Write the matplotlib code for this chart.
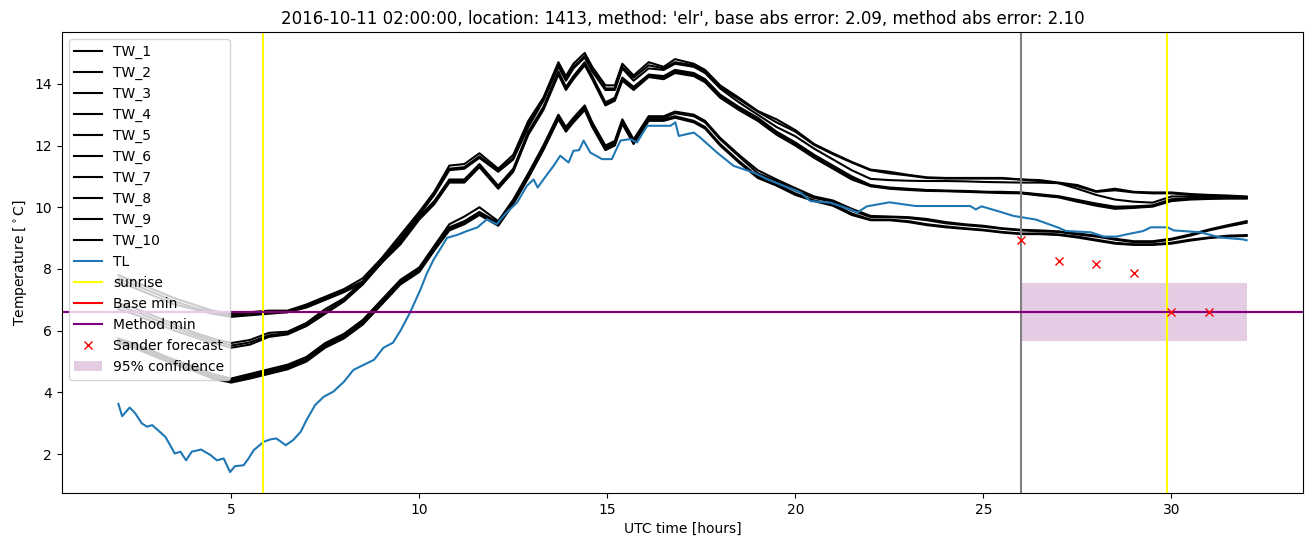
from matplotlib import pyplot as plt

# time grid in hours (UTC, from 2016-10-11 00:00)
hours = [2, 2.5, 3, 3.5, 4, 4.5, 5, 5.5, 6, 6.5, 7, 7.5, 8, 8.5, 9, 9.5, 10,
         10.4, 10.8, 11.2, 11.6, 12.1, 12.5, 12.9, 13.3, 13.7, 13.9, 14.1, 14.4, 14.6, 14.95,
         15.2, 15.4, 15.7, 16.1, 16.5, 16.8, 17.3, 17.6,
         18, 18.5, 19, 19.5, 20, 20.5, 21, 21.5, 22, 22.5, 23, 23.5, 24, 24.5, 25, 25.5,
         26, 26.5, 27, 27.5, 28, 28.5, 29, 29.5, 30, 30.5, 31, 31.5, 32]

TW_1 = [7.8, 7.55, 7.3, 7.05, 6.85, 6.65, 6.55, 6.6, 6.65, 6.65, 6.85, 7.1, 7.35, 7.7, 8.35, 9.1, 9.85,
        10.5, 11.35, 11.4, 11.75, 11.25, 11.7, 12.8, 13.55, 14.7, 14.25, 14.65, 15.0, 14.55, 13.95,
        13.95, 14.65, 14.27, 14.7, 14.55, 14.8, 14.65, 14.45,
        13.95, 13.55, 13.12, 12.85, 12.5, 12.05, 11.75, 11.47, 11.22, 11.15, 11.05, 10.97, 10.95, 10.95,
        10.95, 10.95, 10.9, 10.88, 10.8, 10.72, 10.52, 10.6, 10.5, 10.48, 10.48, 10.43, 10.4, 10.38, 10.35]
TW_2 = [7.7, 7.45, 7.2, 6.95, 6.75, 6.6, 6.5, 6.55, 6.6, 6.6, 6.8, 7.05, 7.3, 7.6, 8.3, 9.0, 9.8,
        10.45, 11.25, 11.3, 11.65, 11.2, 11.6, 12.7, 13.5, 14.6, 14.15, 14.55, 14.9, 14.45, 13.85,
        13.85, 14.55, 14.2, 14.6, 14.5, 14.7, 14.6, 14.4,
        13.9, 13.5, 13.1, 12.75, 12.45, 12.02, 11.72, 11.45, 11.2, 11.1, 11.03, 10.95, 10.93, 10.93,
        10.93, 10.93, 10.9, 10.85, 10.78, 10.68, 10.5, 10.55, 10.48, 10.45, 10.45, 10.4, 10.38, 10.35, 10.32]
TW_3 = [7.6, 7.35, 7.1, 6.85, 6.7, 6.55, 6.45, 6.5, 6.55, 6.6, 6.75, 7.0, 7.25, 7.55, 8.2, 8.95, 9.75,
        10.4, 11.2, 11.25, 11.6, 11.15, 11.55, 12.6, 13.45, 14.55, 14.1, 14.5, 14.85, 14.4, 13.8,
        13.8, 14.5, 14.1, 14.5, 14.45, 14.65, 14.55, 14.35,
        13.85, 13.4, 13.0, 12.6, 12.3, 11.9, 11.55, 11.2, 10.92, 10.88, 10.86, 10.85, 10.85, 10.84,
        10.82, 10.81, 10.8, 10.8, 10.78, 10.6, 10.4, 10.25, 10.18, 10.15, 10.35, 10.35, 10.33, 10.32, 10.3]
TW_4 = [6.9, 6.7, 6.45, 6.2, 5.95, 5.75, 5.6, 5.7, 5.93, 5.97, 6.25, 6.7, 7.05, 7.6, 8.3, 8.9, 9.7,
        10.2, 10.9, 10.9, 11.4, 10.7, 11.25, 12.45, 13.25, 14.4, 13.9, 14.25, 14.7, 14.25, 13.4,
        13.55, 14.2, 13.9, 14.3, 14.25, 14.45, 14.35, 14.15,
        13.65, 13.25, 12.9, 12.45, 12.1, 11.7, 11.35, 11.0, 10.72, 10.64, 10.6, 10.56, 10.54, 10.53,
        10.5, 10.5, 10.48, 10.42, 10.36, 10.24, 10.12, 10.02, 10.03, 10.06, 10.26, 10.3, 10.32, 10.33, 10.33]
TW_5 = [6.8, 6.6, 6.35, 6.1, 5.88, 5.68, 5.52, 5.62, 5.85, 5.92, 6.2, 6.62, 7.0, 7.55, 8.25, 8.85, 9.65,
        10.15, 10.85, 10.85, 11.35, 10.65, 11.2, 12.4, 13.2, 14.35, 13.85, 14.2, 14.65, 14.2, 13.35,
        13.5, 14.15, 13.85, 14.27, 14.2, 14.4, 14.3, 14.1,
        13.6, 13.2, 12.85, 12.4, 12.05, 11.65, 11.3, 10.95, 10.7, 10.62, 10.58, 10.55, 10.53, 10.52,
        10.5, 10.48, 10.47, 10.4, 10.34, 10.2, 10.08, 9.98, 10.0, 10.05, 10.22, 10.28, 10.3, 10.3, 10.3]
TW_6 = [6.7, 6.5, 6.25, 6.0, 5.8, 5.6, 5.45, 5.55, 5.8, 5.88, 6.15, 6.55, 6.95, 7.5, 8.2, 8.8, 9.6,
        10.1, 10.8, 10.8, 11.3, 10.6, 11.15, 12.35, 13.15, 14.3, 13.8, 14.15, 14.6, 14.15, 13.3,
        13.45, 14.1, 13.8, 14.22, 14.15, 14.35, 14.25, 14.05,
        13.55, 13.15, 12.8, 12.35, 12.0, 11.6, 11.25, 10.9, 10.68, 10.6, 10.56, 10.53, 10.52, 10.5,
        10.48, 10.46, 10.45, 10.38, 10.32, 10.18, 10.05, 9.95, 9.98, 10.02, 10.2, 10.25, 10.27, 10.28, 10.28]
TW_7 = [5.75, 5.55, 5.3, 5.05, 4.85, 4.6, 4.45, 4.6, 4.75, 4.9, 5.15, 5.6, 5.9, 6.35, 7.0, 7.65, 8.05,
        8.75, 9.45, 9.7, 10.0, 9.55, 10.25, 11.1, 12.0, 13.0, 12.6, 12.9, 13.3, 12.75, 12.0,
        12.15, 12.85, 12.2, 12.95, 12.95, 13.1, 13.0, 12.8,
        12.25, 11.7, 11.2, 10.9, 10.62, 10.35, 10.22, 9.95, 9.72, 9.7, 9.68, 9.62, 9.52, 9.45,
        9.4, 9.32, 9.27, 9.25, 9.22, 9.15, 9.08, 8.98, 8.9, 8.9, 8.98, 9.12, 9.28, 9.42, 9.55]
TW_8 = [5.7, 5.5, 5.25, 5.0, 4.8, 4.55, 4.4, 4.55, 4.7, 4.85, 5.1, 5.55, 5.85, 6.3, 6.95, 7.6, 8.0,
        8.7, 9.35, 9.55, 9.85, 9.5, 10.2, 11.05, 11.95, 12.95, 12.55, 12.85, 13.25, 12.7, 11.95,
        12.1, 12.8, 12.15, 12.9, 12.9, 13.05, 12.95, 12.75,
        12.2, 11.65, 11.1, 10.85, 10.55, 10.3, 10.18, 9.9, 9.68, 9.68, 9.65, 9.58, 9.48, 9.42,
        9.37, 9.3, 9.25, 9.22, 9.2, 9.12, 9.05, 8.95, 8.87, 8.87, 8.95, 9.08, 9.25, 9.38, 9.5]
TW_9 = [5.65, 5.45, 5.2, 4.95, 4.75, 4.5, 4.35, 4.5, 4.65, 4.8, 5.05, 5.5, 5.8, 6.25, 6.9, 7.55, 7.95,
        8.65, 9.3, 9.5, 9.8, 9.45, 10.15, 11.0, 11.9, 12.9, 12.5, 12.8, 13.2, 12.65, 11.9,
        12.05, 12.75, 12.1, 12.85, 12.85, 12.95, 12.8, 12.6,
        12.05, 11.5, 11.0, 10.75, 10.45, 10.22, 10.1, 9.8, 9.6, 9.6, 9.55, 9.45, 9.38, 9.32,
        9.27, 9.2, 9.15, 9.15, 9.12, 9.05, 8.95, 8.85, 8.8, 8.8, 8.85, 8.95, 9.02, 9.08, 9.1]
TW_10 = [5.6, 5.4, 5.15, 4.9, 4.7, 4.45, 4.32, 4.45, 4.6, 4.75, 5.0, 5.45, 5.75, 6.2, 6.85, 7.5, 7.9,
         8.6, 9.25, 9.45, 9.75, 9.4, 10.1, 10.95, 11.85, 12.85, 12.45, 12.75, 13.15, 12.6, 11.85,
         12.0, 12.7, 12.05, 12.8, 12.8, 12.9, 12.75, 12.55,
         12.0, 11.45, 10.95, 10.7, 10.4, 10.2, 10.05, 9.75, 9.58, 9.58, 9.52, 9.42, 9.35, 9.3,
         9.25, 9.18, 9.13, 9.13, 9.1, 9.02, 8.92, 8.82, 8.78, 8.78, 8.82, 8.92, 9.0, 9.05, 9.07]

# TL has its own (finer) time points
tl_hours = [2.0, 2.1, 2.3, 2.45, 2.62, 2.76, 2.9, 3.05, 3.25, 3.4, 3.5, 3.65, 3.8, 3.95, 4.2,
            4.45, 4.62, 4.8, 4.97, 5.1, 5.33, 5.46, 5.6, 5.86, 6.05, 6.2, 6.45, 6.65, 6.85, 7.0,
            7.23, 7.46, 7.72, 8.0, 8.25, 8.45, 8.8, 9.05, 9.3, 9.5, 9.76, 10.03, 10.2, 10.38,
            10.55, 10.74, 11.0, 11.27, 11.55, 11.8, 12.06, 12.3, 12.6, 12.86, 13.04, 13.15,
            13.35, 13.57, 13.75, 13.97, 14.1, 14.25, 14.37, 14.55, 14.86, 15.12, 15.35, 15.61,
            15.79, 16.06, 16.68, 16.81, 16.9, 17.3, 17.47, 17.92, 18.36, 18.9, 19.25, 19.7,
            20.14, 20.4, 20.93, 21.46, 21.65, 21.9, 22.5, 23.2, 24.65, 24.8, 24.95, 25.4, 25.8,
            26.4, 26.97, 27.2, 27.85, 28.2, 28.55, 28.8, 29.25, 29.45, 29.9, 30.06, 30.77, 31.3,
            31.9, 32.0]
TL = [3.63, 3.23, 3.51, 3.32, 3.0, 2.89, 2.94, 2.78, 2.56, 2.24, 2.02, 2.08, 1.8, 2.08, 2.15,
      1.97, 1.8, 1.86, 1.42, 1.61, 1.64, 1.86, 2.13, 2.4, 2.48, 2.51, 2.29, 2.46, 2.73, 3.1,
      3.59, 3.86, 4.03, 4.35, 4.73, 4.85, 5.06, 5.45, 5.61, 6.0, 6.6, 7.33, 7.85, 8.3,
      8.63, 9.01, 9.1, 9.23, 9.35, 9.61, 9.45, 9.8, 10.15, 10.69, 10.9, 10.64,
      10.98, 11.34, 11.67, 11.45, 11.83, 11.85, 12.16, 11.77, 11.56, 11.56, 12.16, 12.21,
      12.1, 12.64, 12.64, 12.75, 12.31, 12.42, 12.26, 11.77, 11.34, 11.12, 10.91, 10.69,
      10.48, 10.2, 10.15, 9.93, 9.83, 10.03, 10.16, 10.04, 10.04, 9.93, 10.03, 9.87, 9.72,
      9.6, 9.35, 9.23, 9.19, 9.05, 9.05, 9.12, 9.23, 9.35, 9.35, 9.25, 9.19, 9.02,
      8.96, 8.93]

tw_all = [TW_1, TW_2, TW_3, TW_4, TW_5, TW_6, TW_7, TW_8, TW_9, TW_10]

sunrise = [5.85, 29.87]
forecast_start = 26.0
base_min = 6.62
method_min = 6.62

sander_hours = [26, 27, 28, 29, 30, 31]
sander_temp = [8.93, 8.25, 8.15, 7.88, 6.61, 6.61]

conf_hours = [26, 32]
conf_low = [5.68, 5.68]
conf_high = [7.55, 7.55]

title = "2016-10-11 02:00:00, location: 1413, method: 'elr', base abs error: 2.09, method abs error: 2.10"

f, ax = plt.subplots(1, figsize=(13.1, 5.47), dpi=100)
plt.subplots_adjust(left=0.0473, right=0.9947, top=0.9415, bottom=0.0987)

for i, tw in enumerate(tw_all):
    ax.plot(hours, tw, color='black', label='TW_%d' % (i + 1))
ax.plot(tl_hours, TL, color='tab:blue', label='TL')

ax.axvline(sunrise[0], color='yellow', label='sunrise')
ax.axvline(sunrise[1], color='yellow')
ax.axvline(forecast_start, color='gray')
ax.axhline(base_min, color='red', label='Base min')
ax.axhline(method_min, color='purple', label='Method min')
ax.plot(sander_hours, sander_temp, 'x', color='red', label='Sander forecast')
ax.fill_between(conf_hours, conf_low, conf_high, color='purple', alpha=0.2, linewidth=0, label='95% confidence')

ax.legend(loc='upper left')
plt.title(title)
plt.xlabel('UTC time [hours]')
plt.ylabel('Temperature [$^\\circ$C]')
plt.savefig('out.png')
